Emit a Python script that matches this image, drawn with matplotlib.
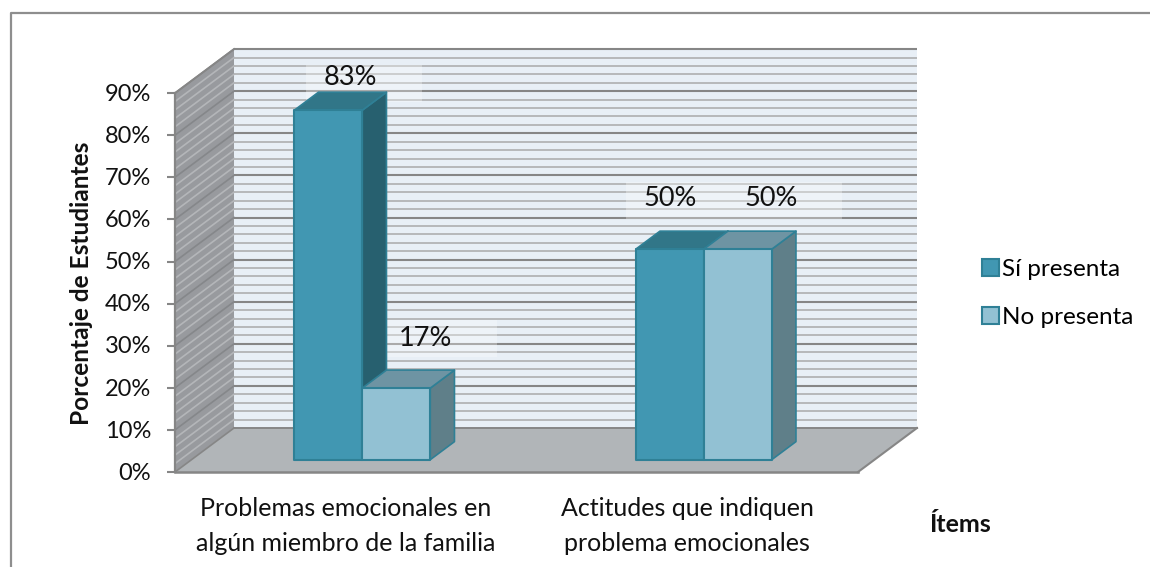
import matplotlib
matplotlib.use("Agg")
import matplotlib.pyplot as plt
from matplotlib.patches import Polygon, Rectangle, Patch

plt.rcParams['font.family'] = ['Lato', 'DejaVu Sans']

# ---- data ----
categories = ["Problemas emocionales en\nalgún miembro de la familia",
              "Actitudes que indiquen\nproblema emocionales"]
series_names = ["Sí presenta", "No presenta"]
si_presenta = [83, 50]
no_presenta = [17, 50]
y_major = [0, 10, 20, 30, 40, 50, 60, 70, 80, 90]
y_minor = [2, 4, 6, 8, 12, 14, 16, 18, 22, 24, 26, 28, 32, 34, 36, 38, 42, 44, 46, 48,
           52, 54, 56, 58, 62, 64, 66, 68, 72, 74, 76, 78, 82, 84, 86, 88]
y_title = "Porcentaje de Estudiantes"
x_title = "Ítems"

# ---- layout ----
W, H = 1150, 567
PX_CAT = 341.5
PX_PCT = 4.21
X0, Y0 = 175, 472
DX_PX, DY_PX = 59, 44
BAR_W = 68 / PX_CAT
D0, D1 = 0.28, 0.69

fig = plt.figure(figsize=(W / 100, H / 100), dpi=100)
ax = fig.add_axes([0, 0, 1, 1])
ax.set_xlim(-X0 / PX_CAT, (W - X0) / PX_CAT)
ax.set_ylim(-(H - Y0) / PX_PCT, Y0 / PX_PCT)
ax.axis('off')

DX, DY = DX_PX / PX_CAT, DY_PX / PX_PCT
XMAX = len(categories)
YMAX = y_major[-1]


def px(x, y):
    return (x - X0) / PX_CAT, (Y0 - y) / PX_PCT


def P(x, y, d=0.0):
    return (x + d * DX, y + d * DY)


GRID = '#868686'
GRID_MINOR = '#B6B8BA'
TXT = '#111111'

# figure border (runs off the right and bottom edges)
bx = [px(11, 567), px(11, 13), px(1150, 13)]
ax.plot(*zip(*bx), color='#8E8E8E', lw=1.6, zorder=1)

# back wall
ax.add_patch(Polygon([P(0, 0, 1), P(XMAX, 0, 1), P(XMAX, YMAX, 1), P(0, YMAX, 1)],
                     fc='#E8EFF6', ec='none', zorder=1))
# side wall
ax.add_patch(Polygon([P(0, 0), P(0, 0, 1), P(0, YMAX, 1), P(0, YMAX)],
                     fc='#989A9E', ec='none', zorder=1))
# floor
ax.add_patch(Polygon([P(0, 0), P(XMAX, 0), P(XMAX, 0, 1), P(0, 0, 1)],
                     fc='#B1B5B8', ec='none', zorder=1.5))

for v in y_minor:
    ax.plot(*zip(P(0, v, 1), P(XMAX, v, 1)), color=GRID_MINOR, lw=1.4, zorder=2,
            solid_capstyle='butt')
    ax.plot(*zip(P(0, v), P(0, v, 1)), color='#B4B6B9', lw=1.2, zorder=2)
for v in y_major:
    if v > 0:
        ax.plot(*zip(P(0, v, 1), P(XMAX, v, 1)), color=GRID, lw=1.5, zorder=2.1,
                solid_capstyle='butt')
        ax.plot(*zip(P(0, v), P(0, v, 1)), color='#85878A', lw=1.2, zorder=2.1)
# floor and frame edges
ax.plot(*zip(P(0, 0, 1), P(XMAX, 0, 1)), color=GRID, lw=1.4, zorder=2.2)
ax.plot(*zip(P(XMAX, 0), P(XMAX, 0, 1)), color=GRID, lw=1.5, zorder=2.2)
ax.plot(*zip(P(0, 0), P(0, 0, 1)), color=GRID, lw=1.2, zorder=2.2)
ax.plot(*zip(P(0, YMAX), P(0, YMAX, 1)), color=GRID, lw=1.4, zorder=2.2)
ax.plot(*zip(P(0, 0), P(XMAX, 0)), color=GRID, lw=1.8, zorder=2.2)
ax.plot(*zip(P(0, 0), P(0, YMAX)), color=GRID, lw=1.6, zorder=2.2)

# y axis ticks and labels
tick_len = 8 / PX_CAT
for v in y_major:
    ax.plot([-tick_len, 0], [v, v], color=GRID, lw=1.5, zorder=2.2, solid_capstyle='butt')
    ax.text(-24 / PX_CAT, v - 0.3, f"{v}%", ha='right', va='center', fontsize=17, color=TXT)

# translucent panels behind data labels
for x0, x1, y0, y1 in [(306, 422, 65, 102), (382, 497, 320, 357), (626, 842, 182, 219)]:
    xa, ya = px(x0, y1)
    xb, yb = px(x1, y0)
    ax.add_patch(Rectangle((xa, ya), xb - xa, yb - ya, fc='white', alpha=0.3, ec='none', zorder=2.5))

EDGE = '#2F8096'
styles = [dict(front='#4197B2', top='#317688', side='#27606F'),
          dict(front='#92C1D3', top='#6E94A3', side='#5F7F89')]


def bar3d(xl, v, st, z):
    xr = xl + BAR_W
    ax.add_patch(Polygon([P(xl, 0, D0), P(xr, 0, D0), P(xr, v, D0), P(xl, v, D0)],
                         fc=st['front'], ec=EDGE, lw=1.5, zorder=z + 0.2, joinstyle='round'))
    ax.add_patch(Polygon([P(xl, v, D0), P(xr, v, D0), P(xr, v, D1), P(xl, v, D1)],
                         fc=st['top'], ec=EDGE, lw=1.2, zorder=z + 0.1, joinstyle='round'))
    ax.add_patch(Polygon([P(xr, 0, D0), P(xr, 0, D1), P(xr, v, D1), P(xr, v, D0)],
                         fc=st['side'], ec=EDGE, lw=1.2, zorder=z, joinstyle='round'))


z = 3
centers = [i + 0.5 for i in range(len(categories))]
for c, a, b in zip(centers, si_presenta, no_presenta):
    bar3d(c - BAR_W, a, styles[0], z)
    bar3d(c, b, styles[1], z + 1)
    z += 2

# data labels
label_dx_px = [[22, 29], [0, 33]]
label_dy_px = [[33, 50], [51, 51]]
bar_off = [-BAR_W / 2 + D0 * DX, BAR_W / 2 + D0 * DX]
for i, c in enumerate(centers):
    for j, vals in enumerate((si_presenta, no_presenta)):
        x = c + bar_off[j] + label_dx_px[i][j] / PX_CAT
        y = vals[i] + D0 * DY + label_dy_px[i][j] / PX_PCT
        ax.text(x, y, f"{vals[i]}%", ha='center', va='center', fontsize=19.5,
                color=TXT, zorder=10)

# category labels
for c, lab in zip(centers, categories):
    ax.text(c, px(0, 526)[1], lab, ha='center', va='center', fontsize=18,
            linespacing=1.58, color=TXT)

# axis titles
ax.text(*px(82, 283), y_title, rotation=90, ha='center', va='center',
        fontsize=17.6, fontweight='bold', color=TXT)
ax.text(*px(960.5, 524), x_title, ha='center', va='center',
        fontsize=18, fontweight='bold', color=TXT)

# legend
handles = [Patch(fc=styles[0]['front'], ec=EDGE, lw=1.5, label=series_names[0]),
           Patch(fc=styles[1]['front'], ec=EDGE, lw=1.5, label=series_names[1])]
ax.legend(handles=handles, loc='center left', bbox_to_anchor=(982 / W, 1 - 293.5 / H),
          bbox_transform=fig.transFigure, frameon=False, fontsize=17.5,
          handlelength=0.68, handleheight=0.7, handletextpad=0.15, labelspacing=1.07,
          borderpad=0, borderaxespad=0)

fig.savefig("out.png", dpi=100)
